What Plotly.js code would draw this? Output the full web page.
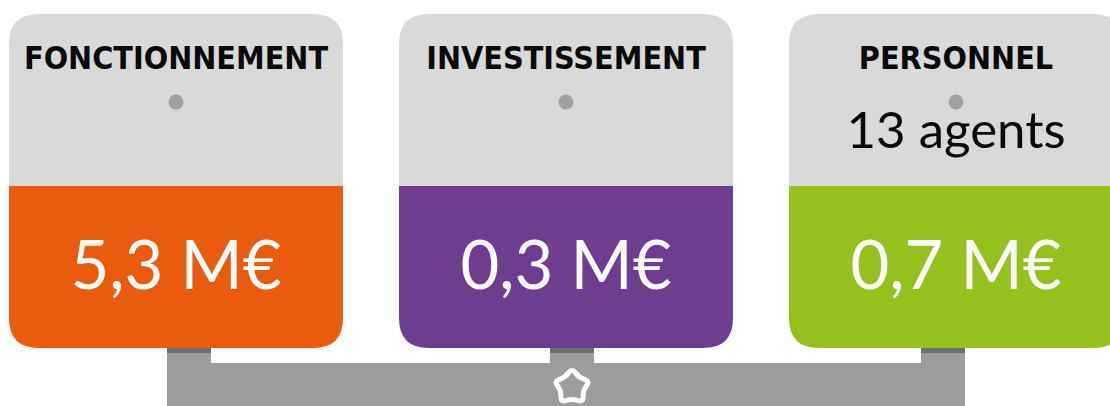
<!DOCTYPE html>
<html><head><meta charset="utf-8">
<script src="https://cdn.plot.ly/plotly-3.0.1.min.js"></script>
<style>html,body{margin:0;padding:0;background:#fff;}#chart{width:1110px;height:406px;}</style>
</head><body><div id="chart"></div>
<script>
const categories = ['FONCTIONNEMENT', 'INVESTISSEMENT', 'PERSONNEL'];
const amounts = [5.3, 0.3, 0.7];
const unit = 'M€';
const subLabels = ['', '', '13 agents'];
const colors = ['#e95b0e', '#6e3d8f', '#95c11f'];

(function () {
const W = 1110, H = 406;
const cardW = 334, cardStep = 390, firstLeft = 9;
const cardTop = 14, split = 186, bottom = 348, r = 30;
const grayCard = '#d9d9d9', connDark = '#6e6e6e', connGray = '#9d9d9d';

const shapes = [];
const centers = categories.map((c, i) => firstLeft + i * cardStep + cardW / 2);
const stubW = 44;
const stubOffs = [-9, -16, -35];

shapes.push({type: 'rect', xref: 'x', yref: 'y', x0: centers[0] + stubOffs[0], x1: centers[2] + stubOffs[2] + stubW,
  y0: 363, y1: 406, fillcolor: connGray, line: {width: 0}, layer: 'below'});
centers.forEach((cx, i) => {
  const sx0 = cx + stubOffs[i], sx1 = sx0 + stubW;
  shapes.push({type: 'rect', xref: 'x', yref: 'y', x0: sx0, x1: sx1, y0: bottom - 2, y1: 364, fillcolor: connGray, line: {width: 0}, layer: 'below'});
  shapes.push({type: 'rect', xref: 'x', yref: 'y', x0: sx0, x1: sx1, y0: bottom - 2, y1: 353, fillcolor: connDark, line: {width: 0}, layer: 'below'});
});

categories.forEach((c, i) => {
  const x0 = firstLeft + i * cardStep, x1 = x0 + cardW;
  shapes.push({type: 'path', xref: 'x', yref: 'y', layer: 'below',
    path: `M ${x0},${cardTop + r} Q ${x0},${cardTop} ${x0 + r},${cardTop} L ${x1 - r},${cardTop} Q ${x1},${cardTop} ${x1},${cardTop + r} L ${x1},${split} L ${x0},${split} Z`,
    fillcolor: grayCard, line: {width: 0}});
  shapes.push({type: 'path', xref: 'x', yref: 'y', layer: 'below',
    path: `M ${x0},${split} L ${x1},${split} L ${x1},${bottom - r} Q ${x1},${bottom} ${x1 - r},${bottom} L ${x0 + r},${bottom} Q ${x0},${bottom} ${x0},${bottom - r} Z`,
    fillcolor: colors[i], line: {width: 0}});
});

// rounded outlined star on the connector
const sc = [572, 387], ro = 19, ri = 11.5;
const pts = [];
for (let k = 0; k < 10; k++) {
  const a = -Math.PI / 2 + k * Math.PI / 5;
  const rr = k % 2 === 0 ? ro : ri;
  pts.push([sc[0] + rr * Math.cos(a), sc[1] + rr * Math.sin(a)]);
}
let sp = '';
for (let k = 0; k < 10; k++) {
  const p = pts[k], n = pts[(k + 1) % 10];
  const m = [(p[0] + n[0]) / 2, (p[1] + n[1]) / 2];
  if (k === 0) {
    const pv = pts[9];
    sp += `M ${((pv[0] + p[0]) / 2).toFixed(1)},${((pv[1] + p[1]) / 2).toFixed(1)}`;
  }
  sp += ` Q ${p[0].toFixed(1)},${p[1].toFixed(1)} ${m[0].toFixed(1)},${m[1].toFixed(1)}`;
}
sp += ' Z';
shapes.push({type: 'path', xref: 'x', yref: 'y', layer: 'below', path: sp, fillcolor: connGray, line: {color: '#ffffff', width: 5}});

const valueLabels = amounts.map(v => v.toFixed(1).replace('.', ',') + ' ' + unit);

const traces = [
  {type: 'scatter', mode: 'text', x: centers, y: categories.map(() => 61), text: categories,
   textposition: 'middle center', hoverinfo: 'skip', cliponaxis: false,
   textfont: {family: 'DejaVu Sans Condensed, DejaVu Sans', size: 32, color: '#0a0a0a', weight: 'bold'}},
  {type: 'scatter', mode: 'markers', x: centers, y: categories.map(() => 102), hoverinfo: 'skip',
   marker: {size: 15, color: '#a0a0a0', line: {width: 0}}},
  {type: 'scatter', mode: 'text', x: centers, y: subLabels.map(() => 135), text: subLabels,
   textposition: 'middle center', hoverinfo: 'skip', cliponaxis: false,
   textfont: {family: 'Lato, Noto Sans', size: 51, color: '#0a0a0a'}},
  {type: 'scatter', mode: 'text', x: centers, y: amounts.map(() => 272), text: valueLabels,
   textposition: 'middle center', hoverinfo: 'skip', cliponaxis: false,
   textfont: {family: 'Lato, Noto Sans', size: 67, color: '#ffffff'}}
];

const layout = {
  width: W, height: H, margin: {l: 0, r: 0, t: 0, b: 0},
  paper_bgcolor: '#ffffff', plot_bgcolor: 'rgba(0,0,0,0)', showlegend: false,
  xaxis: {range: [0, W], visible: false, fixedrange: true},
  yaxis: {range: [H, 0], visible: false, fixedrange: true},
  shapes: shapes
};
Plotly.newPlot('chart', traces, layout, {staticPlot: true, displayModeBar: false});
})();
</script></body></html>
